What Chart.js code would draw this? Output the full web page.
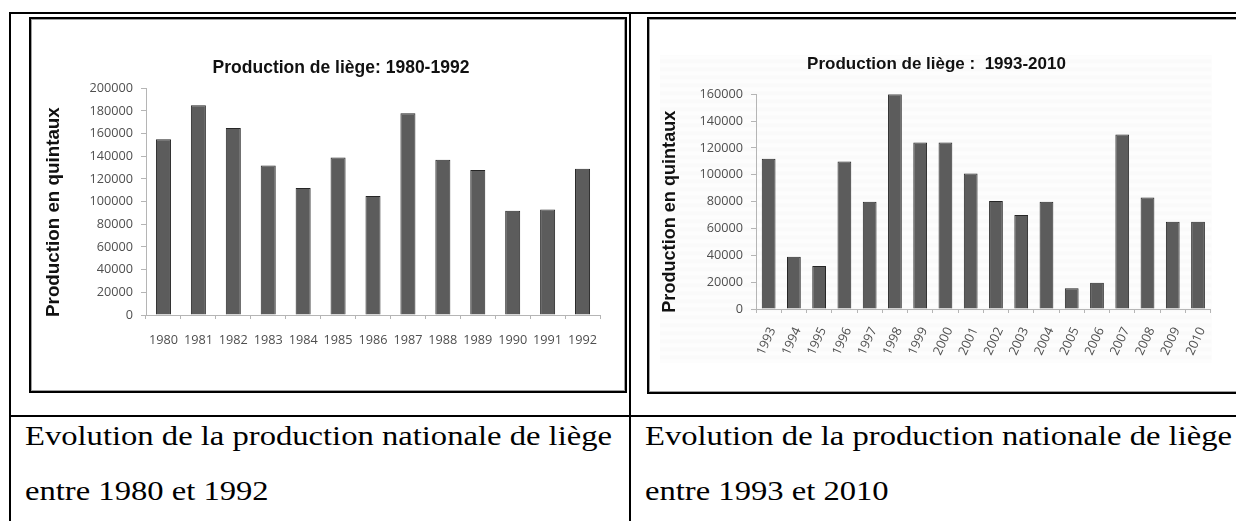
<!DOCTYPE html>
<html>
<head>
<meta charset="utf-8">
<script src="https://cdn.jsdelivr.net/npm/chart.js@4.4.1/dist/chart.umd.min.js"></script>
<style>
html,body{margin:0;padding:0;width:1236px;height:521px;overflow:hidden;background:#fff;}
.line{position:absolute;background:#000;}
.box{position:absolute;border:2px solid #000;box-shadow:inset 0 0 0 1px #a0a0a0;overflow:hidden;box-sizing:border-box;background:#fff;}
.box canvas{position:absolute;left:0;top:0;}
.cap{position:absolute;font-family:"Liberation Serif","Times New Roman",serif;font-size:28px;line-height:1;color:#000;white-space:nowrap;transform:scaleX(1.165);transform-origin:0 0;}
</style>
</head>
<body>
<!-- table lines -->
<div class="line" style="left:9px;top:12px;width:1240px;height:2px;"></div>
<div class="line" style="left:9px;top:12px;width:2px;height:520px;"></div>
<div class="line" style="left:629px;top:12px;width:2px;height:520px;"></div>
<div class="line" style="left:9px;top:415px;width:1240px;height:2px;"></div>

<div class="box" style="left:29px;top:17px;width:598px;height:376px;">
  <canvas id="c1" width="620" height="371"></canvas>
</div>
<div class="box" style="left:647px;top:17px;width:620px;height:377px;">
  <canvas id="c2" width="575" height="372"></canvas>
</div>

<div class="cap" style="left:25px;top:421.6px;">Evolution de la production nationale de liège</div>
<div class="cap" style="left:25px;top:477.3px;">entre 1980 et 1992</div>
<div class="cap" style="left:645px;top:421.6px;">Evolution de la production nationale de liège</div>
<div class="cap" style="left:645px;top:477.3px;">entre 1993 et 2010</div>

<script>
// ---------- data ----------
const years1 = ['1980','1981','1982','1983','1984','1985','1986','1987','1988','1989','1990','1991','1992'];
const prod1  = [155000,185000,165000,132000,112000,139000,105000,178000,137000,128000,92000,93000,129000];
const yMax1 = 200000, yStep1 = 20000;

const years2 = ['1993','1994','1995','1996','1997','1998','1999','2000','2001','2002','2003','2004','2005','2006','2007','2008','2009','2010'];
const prod2  = [112000,39000,32000,110000,80000,160000,124000,124000,101000,80500,70000,80000,15500,19500,130000,83000,65000,65000];
const yMax2 = 160000, yStep2 = 20000;

const title1 = 'Production de liège: 1980-1992';
const title2 = 'Production de liège :  1993-2010';
const yTitle = 'Production en quintaux';

// ---------- styles ----------
const TICK_FONT = {family:'"Open Sans", sans-serif', size:12.7};
const TICK_COLOR = '#4f4f4f';
const AXIS_COLOR = '#b5b5b5';
const BAR_FILL = '#5c5c5c';
const BAR_EDGE = '#262626';

Chart.defaults.animation = false;
Chart.defaults.responsive = false;
Chart.defaults.devicePixelRatio = 1;

const bgPlugin = {
  id: 'stripeBg',
  beforeDraw(chart, args, opts) {
    if (!opts || !opts.on) return;
    const {ctx, chartArea: a} = chart;
    const x0 = a.left - 96, x1 = a.right + 1, y0 = a.top - 39, y1 = a.bottom + 51;
    ctx.save();
    ctx.fillStyle = '#fafafa';
    ctx.fillRect(x0, y0, x1 - x0, y1 - y0);
    ctx.fillStyle = '#fdfdfd';
    for (let y = y0; y < y1; y += 8) ctx.fillRect(x0, y, x1 - x0, 4);
    ctx.restore();
  }
};

function makeChart(id, labels, data, o) {
  return new Chart(document.getElementById(id), {
    type: 'bar',
    data: {
      labels: labels,
      datasets: [{
        data: data,
        backgroundColor: BAR_FILL,
        borderColor: BAR_EDGE,
        borderWidth: 1,
        barPercentage: o.barPct,
        categoryPercentage: 1
      }]
    },
    plugins: [bgPlugin],
    options: {
      layout: {padding: 0},
      plugins: {
        legend: {display: false},
        tooltip: {enabled: false},
        stripeBg: {on: o.bg},
        title: {
          display: true,
          text: o.title,
          color: '#111',
          font: {family: '"Liberation Sans", Arial, sans-serif', size: o.titleSize, weight: 'bold'},
          padding: {top: o.titleTop, bottom: o.titleBottom}
        }
      },
      scales: {
        x: {
          grid: {drawOnChartArea: false, drawTicks: true, tickLength: 4, color: AXIS_COLOR, offset: true},
          border: {display: true, color: AXIS_COLOR},
          ticks: {font: TICK_FONT, color: TICK_COLOR, padding: o.xPad, autoSkip: false,
                  minRotation: o.rot, maxRotation: o.rot, labelOffset: o.labelOffset},
          afterFit: s => { s.height = o.xHeight; }
        },
        y: {
          min: 0, max: o.yMax,
          grid: {drawOnChartArea: false, drawTicks: true, tickLength: 5, color: AXIS_COLOR},
          border: {display: true, color: AXIS_COLOR},
          ticks: {stepSize: o.yStep, font: TICK_FONT, color: TICK_COLOR, padding: 8,
                  callback: v => String(v)},
          title: {
            display: true,
            text: yTitle + '\u00a0\u00a0\u00a0\u00a0',
            color: '#111',
            font: {family: '"Liberation Sans", Arial, sans-serif', size: o.yTitleSize, weight: 'bold'},
            padding: {top: o.yTitlePad, bottom: 0}
          },
          afterFit: s => { s.width = o.yWidth; }
        },
        // empty spacer on the right so the title stays centred on the whole image
        spacer: {
          type: 'linear', position: 'right', display: true,
          grid: {display: false, drawTicks: false}, border: {display: false},
          ticks: {display: false},
          afterFit: s => { s.width = o.rightGap; }
        }
      }
    }
  });
}

makeChart('c1', years1, prod1, {
  barPct: 0.43, rightGap: 51, bg: false,
  title: title1, titleSize: 17.5, titleTop: 38.8, titleBottom: 9.5,
  xPad: 14, rot: 0, labelOffset: 0, xHeight: 75,
  yMax: yMax1, yStep: yStep1, yTitleSize: 18.8, yTitlePad: 11.2, yWidth: 115
});

makeChart('c2', years2, prod2, {
  barPct: 0.545, rightGap: 6, bg: true,
  title: title2, titleSize: 17, titleTop: 34.8, titleBottom: 20.1,
  xPad: 12, rot: 65, labelOffset: 4, xHeight: 82,
  yMax: yMax2, yStep: yStep2, yTitleSize: 18.1, yTitlePad: 10.2, yWidth: 107
});
</script>
</body>
</html>
